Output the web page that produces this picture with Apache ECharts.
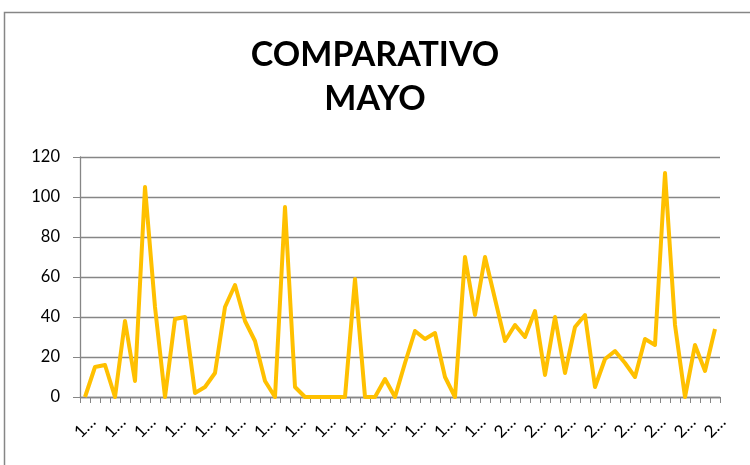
<!DOCTYPE html>
<html>
<head>
<meta charset="utf-8">
<script src="https://cdn.jsdelivr.net/npm/echarts@6/dist/echarts.min.js"></script>
<style>
  html, body { margin: 0; padding: 0; background: #fff; }
  #chart { width: 750px; height: 465px; }
</style>
</head>
<body>
<div id="chart"></div>
<script>
  // etiquetas del eje x tal como se ven (truncadas)
  var categorias = [
    '1…', '1…', '1…', '1…', '1…', '1…', '1…', '1…', '1…', '1…',
    '1…', '1…', '1…', '1…', '1…', '1…', '1…', '1…', '1…', '1…',
    '1…', '1…', '1…', '1…', '1…', '1…', '1…', '1…', '1…', '1…',
    '1…', '1…', '1…', '1…', '1…', '1…', '1…', '1…', '1…', '1…',
    '1…', '2…', '2…', '2…', '2…', '2…', '2…', '2…', '2…', '2…',
    '2…', '2…', '2…', '2…', '2…', '2…', '2…', '2…', '2…', '2…',
    '2…', '2…', '2…', '2…'
  ];
  var valores = [
    0, 15, 16, 0, 38, 8, 105, 45, 0, 39,
    40, 2, 5, 12, 45, 56, 38, 28, 8, 0,
    95, 5, 0, 0, 0, 0, 0, 59, 0, 0,
    9, 0, 17, 33, 29, 32, 10, 0, 70, 41,
    70, 49, 28, 36, 30, 43, 11, 40, 12, 35,
    41, 5, 19, 23, 17, 10, 29, 26, 112, 36,
    0, 26, 13, 34
  ];
  var ticksY = [0, 120, 20]; // min, max, intervalo

  var gris = '#868686';
  var myChart = echarts.init(document.getElementById('chart'));
  myChart.setOption({
    animation: false,
    textStyle: { fontFamily: 'Lato' },
    graphic: [{
      type: 'rect',
      shape: { x: 4.5, y: 12.5, width: 800, height: 500 },
      style: { fill: 'none', stroke: gris, lineWidth: 1.5 }
    }],
    title: {
      text: 'COMPARATIVO\nMAYO',
      left: 'center',
      top: 33,
      padding: 0,
      textStyle: {
        fontFamily: 'Lato',
        fontWeight: 'bold',
        fontSize: 34,
        lineHeight: 44,
        color: '#000'
      }
    },
    grid: { left: 80, right: 30, top: 157, bottom: 68 },
    xAxis: {
      type: 'category',
      data: categorias,
      boundaryGap: true,
      axisLine: { lineStyle: { color: gris, width: 1.3 } },
      axisTick: { show: true, interval: 0, length: 6, lineStyle: { color: gris } },
      axisLabel: {
        interval: 2,
        rotate: 45,
        align: 'center',
        verticalAlign: 'middle',
        margin: 30,
        fontSize: 17,
        color: '#000'
      }
    },
    yAxis: {
      type: 'value',
      min: ticksY[0],
      max: ticksY[1],
      interval: ticksY[2],
      axisLine: { show: true, lineStyle: { color: gris, width: 1.3 } },
      axisTick: { show: true, length: 7, lineStyle: { color: gris } },
      axisLabel: { fontSize: 16.5, margin: 20, color: '#000' },
      splitLine: { lineStyle: { color: gris, width: 1.3 } }
    },
    series: [{
      type: 'line',
      data: valores,
      showSymbol: false,
      symbol: 'none',
      lineStyle: { color: '#FFC000', width: 4, join: 'round' },
      itemStyle: { color: '#FFC000' }
    }]
  });
</script>
</body>
</html>
